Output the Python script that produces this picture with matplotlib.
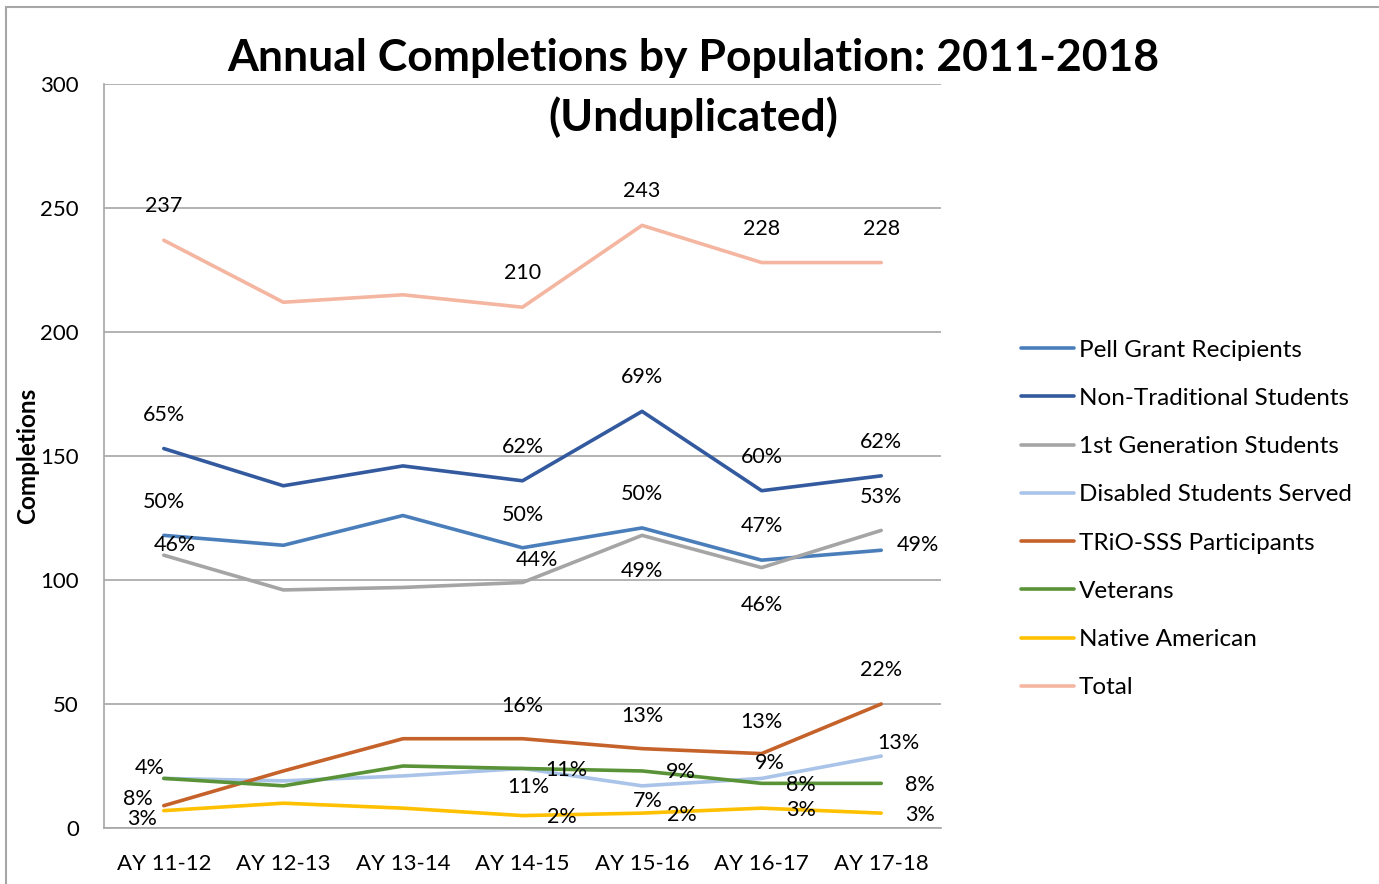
import matplotlib
matplotlib.use('Agg')
import matplotlib.pyplot as plt
from matplotlib.patches import Rectangle

plt.rcParams['font.family'] = ['Lato', 'DejaVu Sans']

# Data
years = ['AY 11-12', 'AY 12-13', 'AY 13-14', 'AY 14-15', 'AY 15-16', 'AY 16-17', 'AY 17-18']

pell = [118, 114, 126, 113, 121, 108, 112]
non_trad = [153, 138, 146, 140, 168, 136, 142]
first_gen = [110, 96, 97, 99, 118, 105, 120]
disabled = [20, 19, 21, 24, 17, 20, 29]
trio = [9, 23, 36, 36, 32, 30, 50]
veterans = [20, 17, 25, 24, 23, 18, 18]
native = [7, 10, 8, 5, 6, 8, 6]
total = [237, 212, 215, 210, 243, 228, 228]

# data labels (None = no label shown)
pell_lbl = ['50%', None, None, '50%', '50%', '47%', '49%']
non_trad_lbl = ['65%', None, None, '62%', '69%', '60%', '62%']
first_gen_lbl = ['46%', None, None, '44%', '49%', '46%', '53%']
disabled_lbl = [None, None, None, '11%', '7%', '9%', '13%']
trio_lbl = ['8%', None, None, '16%', '13%', '13%', '22%']
veterans_lbl = ['4%', None, None, '11%', '9%', '8%', '8%']
native_lbl = ['3%', None, None, '2%', '2%', '3%', '3%']
total_lbl = ['237', None, None, '210', '243', '228', '228']

series = [
    ('Pell Grant Recipients', pell, pell_lbl, '#4A7EBB'),
    ('Non-Traditional Students', non_trad, non_trad_lbl, '#335A9E'),
    ('1st Generation Students', first_gen, first_gen_lbl, '#A5A5A5'),
    ('Disabled Students Served', disabled, disabled_lbl, '#A9C4E8'),
    ('TRiO-SSS Participants', trio, trio_lbl, '#C5622A'),
    ('Veterans', veterans, veterans_lbl, '#5A9337'),
    ('Native American', native, native_lbl, '#FFC000'),
    ('Total', total, total_lbl, '#F4B6A0'),
]

# label offsets in pixels (dx, dy) per series / point
up = [(0, 34)] * 7
offsets = {
    'Pell Grant Recipients': [(0, 33), None, None, (0, 33), (0, 34), (0, 34), (37, 5)],
    'Non-Traditional Students': up,
    '1st Generation Students': [(11, 10), None, None, (14, 22), (0, -36), (0, -37), (0, 33)],
    'Disabled Students Served': [None, None, None, (6, -19), (6, -15), (8, 15), (17, 13)],
    'TRiO-SSS Participants': [(-26, 7), None, None, (0, 33), (0, 33), (0, 32), (0, 34)],
    'Veterans': [(-14, 10), None, None, (44, -2), (39, -1), (39, -2), (39, -2)],
    'Native American': [(-22, -8), None, None, (39, -1), (40, -2), (39, -2), (39, -2)],
    'Total': up,
}

fig = plt.figure(figsize=(13.79, 8.84), dpi=100)
ax = fig.add_axes([104 / 1379, 56 / 884, 837 / 1379, 744 / 884])

x = list(range(len(years)))
for name, vals, lbls, col in series:
    ax.plot(x, vals, color=col, linewidth=2.6, label=name, solid_capstyle='round')
for name, vals, lbls, col in series:
    for i, (v, t) in enumerate(zip(vals, lbls)):
        if t is None:
            continue
        dx, dy = offsets[name][i]
        ax.annotate(t, (i, v), xytext=(dx, dy), textcoords='offset pixels',
                    ha='center', va='center', fontsize=15.5, color='black')

ax.set_xlim(-0.5, 6.5)
ax.set_ylim(0, 300)
ax.set_xticks(x)
ax.set_xticklabels(years)
ax.set_yticks(range(0, 301, 50))
ax.tick_params(axis='both', length=0, labelsize=16)
ax.tick_params(axis='y', pad=18)
ax.tick_params(axis='x', pad=19)
ax.yaxis.grid(True, color='#A6A6A6', linewidth=1.2)
ax.set_axisbelow(True)
for s in ['top', 'right']:
    ax.spines[s].set_visible(False)
ax.spines['left'].set_color('#A6A6A6')
ax.spines['bottom'].set_color('#A6A6A6')
ax.spines['left'].set_linewidth(1.2)
ax.spines['bottom'].set_linewidth(1.2)

fig.text(28 / 1379, 1 - 456 / 884, 'Completions', rotation=90, ha='center', va='center',
         fontsize=17.5, fontweight='bold')
fig.text(693 / 1379, 1 - 58 / 884, 'Annual Completions by Population: 2011-2018',
         ha='center', va='center', fontsize=32, fontweight='bold')
fig.text(693 / 1379, 1 - 117 / 884, '(Unduplicated)',
         ha='center', va='center', fontsize=32, fontweight='bold')

fig.legend(loc='center left', bbox_to_anchor=(1021 / 1379, 1 - 519 / 884),
           frameon=False, fontsize=17.5, handlelength=2.18, handletextpad=0.2,
           labelspacing=1.12, borderpad=0, borderaxespad=0)

# outer chart border
fig.patches.append(Rectangle((6 / 1379, -0.1), 1.2, 1 - 7 / 884 + 0.1,
                             transform=fig.transFigure, fill=False,
                             edgecolor='#A6A6A6', linewidth=1.5))

fig.savefig('out.png', dpi=100, facecolor='white')
